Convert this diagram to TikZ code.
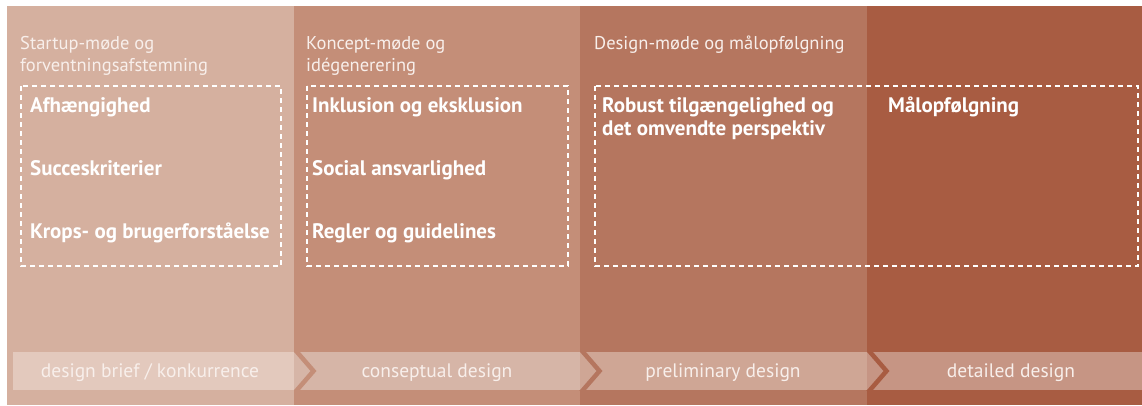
\documentclass[tikz,border=0pt]{standalone}
\usepackage{fontspec}
\setmainfont{PT Sans}
\usetikzlibrary{positioning}

\definecolor{faseA}{HTML}{D5B09F}
\definecolor{faseB}{HTML}{C48E78}
\definecolor{faseC}{HTML}{B5765F}
\definecolor{faseD}{HTML}{A85C42}
\definecolor{baandA}{HTML}{E3C9BD}
\definecolor{baandB}{HTML}{D6B5A7}
\definecolor{baandC}{HTML}{CFA695}
\definecolor{baandD}{HTML}{C69584}
\definecolor{lystekst}{HTML}{F8EFEB}

\begin{document}
\begin{tikzpicture}[x = 1pt, y = -1pt,
		overskrift/.style = {anchor = base west, inner sep = 0pt, align = left, text = lystekst, font = \fontsize{18.5}{22}\selectfont},
		punkt/.style = {anchor = base west, inner sep = 0pt, align = left, text = white, font = \fontsize{21}{23}\selectfont\bfseries},
		fase/.style = {anchor = base, inner sep = 0pt, text = lystekst, font = \fontsize{19.5}{22}\selectfont},
		ramme/.style = {draw = white, line width = 1.6pt, dash pattern = on 5pt off 4pt},
		pil/.style = {line width = 4.5pt, line join = miter}]
	\useasboundingbox (0, 0) rectangle (1142, 405);
	\fill [faseA] (7, 6) rectangle (294, 405);
	\fill [faseB] (294, 6) rectangle (580, 405);
	\fill [faseC] (580, 6) rectangle (867, 405);
	\fill [faseD] (867, 6) rectangle (1142, 405);
	\fill [baandA] (13, 352) rectangle (294, 390);
	\fill [baandB] (294, 352) rectangle (580, 390);
	\fill [baandC] (580, 352) rectangle (867, 390);
	\fill [baandD] (867, 352) rectangle (1142, 390);
	\begin{scope}
		\clip (294, 352) rectangle (1142, 390);
		\draw [pil, faseB] (286.6, 340) -- (313.5, 371) -- (286.6, 402);
		\draw [pil, faseC] (572.6, 340) -- (599.5, 371) -- (572.6, 402);
		\draw [pil, faseD] (859.6, 340) -- (886.5, 371) -- (859.6, 402);
	\end{scope}
	\draw [ramme] (21, 86) rectangle (281, 266);
	\draw [ramme] (307, 86) rectangle (568, 266);
	\draw [ramme] (595, 86) rectangle (1138, 266);
	\node [overskrift] (startup) at (20, 71.5) {Startup-møde og\\forventningsafstemning};
	\node [overskrift] (koncept) at (306, 71.5) {Koncept-møde og\\idégenerering};
	\node [overskrift] (designmoede) at (594, 49.5) {Design-møde og målopfølgning};
	\node [punkt] (afhaengighed) at (30, 112) {Afhængighed};
	\node [punkt] (succes) at (30, 175) {Succeskriterier};
	\node [punkt] (krop) at (30, 238) {Krops- og brugerforståelse};
	\node [punkt] (inklusion) at (312, 112) {Inklusion og eksklusion};
	\node [punkt] (social) at (312, 175) {Social ansvarlighed};
	\node [punkt] (regler) at (312, 238) {Regler og guidelines};
	\node [punkt] (robust) at (602, 135) {Robust tilgængelighed og\\det omvendte perspektiv};
	\node [punkt] (maal) at (888, 112) {Målopfølgning};
	\node [fase] (brief) at (150, 377) {design brief / konkurrence};
	\node [fase] (konseptuel) at (437, 377) {conseptual design};
	\node [fase] (preliminary) at (723, 377) {preliminary design};
	\node [fase] (detailed) at (1011, 377) {detailed design};
\end{tikzpicture}
\end{document}
